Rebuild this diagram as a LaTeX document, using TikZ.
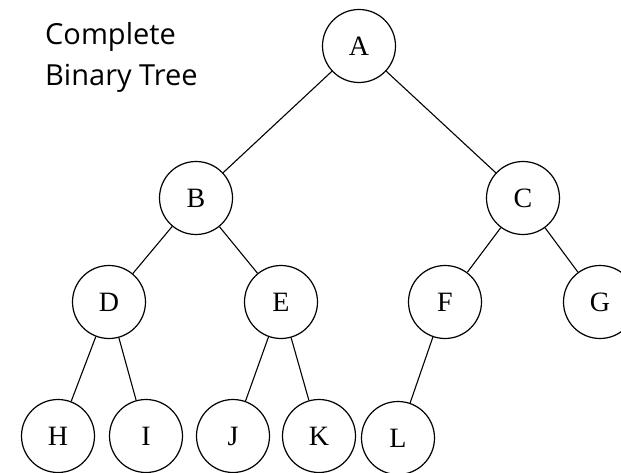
\documentclass[tikz,border=0pt]{standalone}
\usepackage{fontspec}
\setmainfont{Liberation Serif}
\newfontfamily\labelfont{Open Sans}
\begin{document}
\begin{tikzpicture}[x=1pt,y=-1pt,
  vertex/.style={circle,draw,line width=1.2pt,minimum size=73pt,inner sep=0pt,font=\fontsize{28}{28}\selectfont},
  edge/.style={line width=1.1pt}]
\useasboundingbox (0,0) rectangle (621,473);
\clip (0,0) rectangle (621,473);
\node[anchor=base west,inner sep=0pt,font=\labelfont\fontsize{29}{29}\selectfont] (t1) at (45,45) {Complete};
\node[anchor=base west,inner sep=0pt,font=\labelfont\fontsize{29}{29}\selectfont] (t2) at (45,86) {Binary Tree};
\node[vertex] (A) at (359,46) {A};
\node[vertex] (B) at (196,198) {B};
\node[vertex] (C) at (523,198) {C};
\node[vertex] (D) at (109,302) {D};
\node[vertex] (E) at (281,302) {E};
\node[vertex] (F) at (445,302) {F};
\node[vertex] (G) at (600,302) {G};
\node[vertex] (H) at (58,436) {H};
\node[vertex] (I) at (146,436) {I};
\node[vertex] (J) at (233,436) {J};
\node[vertex] (K) at (319,436) {K};
\node[vertex] (L) at (398,438) {L};
\draw[edge] (A) -- (B);
\draw[edge] (A) -- (C);
\draw[edge] (B) -- (D);
\draw[edge] (B) -- (E);
\draw[edge] (C) -- (F);
\draw[edge] (C) -- (G);
\draw[edge] (D) -- (H);
\draw[edge] (D) -- (I);
\draw[edge] (E) -- (J);
\draw[edge] (E) -- (K);
\draw[edge] (F) -- (L);
\end{tikzpicture}
\end{document}
